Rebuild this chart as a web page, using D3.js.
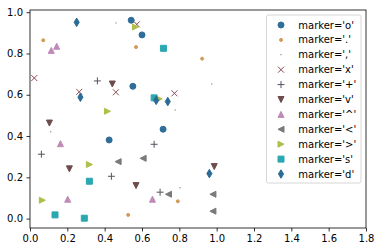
<!DOCTYPE html>
<html>
<head>
<meta charset="utf-8">
<script src="https://cdn.jsdelivr.net/npm/d3@7"></script>
<style>
  body { margin: 0; background: #fff; }
  svg text { font-family: "DejaVu Sans", sans-serif; font-size: 10px; fill: #000; }
</style>
</head>
<body>
<svg id="chart" width="380" height="252"></svg>
<script>
// marker codes, in the order they were plotted
const markerCodes = ["o", ".", ",", "x", "+", "v", "^", "<", ">", "s", "d"];
const markerColors = ["#2f6d9a", "#d39a55", "#3c6e3c", "#8c4a55", "#5a5060", "#6d4c4c",
                      "#c08ab8", "#7a7a7a", "#b0be4a", "#2aa8b0", "#2a6c95"];

// values, 5 points for each marker
const circleX = [0.542, 0.600, 0.551, 0.424, 0.713];
const circleY = [0.961, 0.890, 0.641, 0.381, 0.433];
const pointX = [0.071, 0.568, 0.922, 0.526, 0.792];
const pointY = [0.864, 0.831, 0.775, 0.018, 0.084];
const pixelX = [0.461, 0.974, 0.778, 0.111, 0.804];
const pixelY = [0.948, 0.652, 0.526, 0.421, 0.150];
const xmarkX = [0.572, 0.023, 0.264, 0.460, 0.774];
const xmarkY = [0.941, 0.681, 0.614, 0.612, 0.607];
const plusX = [0.361, 0.061, 0.665, 0.436, 0.697];
const plusY = [0.667, 0.312, 0.360, 0.205, 0.128];
const downX = [0.104, 0.211, 0.441, 0.568, 0.987];
const downY = [0.463, 0.241, 0.652, 0.160, 0.252];
const upX = [0.143, 0.114, 0.163, 0.202, 0.656];
const upY = [0.835, 0.815, 0.363, 0.094, 0.094];
const leftX = [0.472, 0.606, 0.742, 0.980, 0.980];
const leftY = [0.276, 0.292, 0.118, 0.118, 0.036];
const rightX = [0.565, 0.415, 0.318, 0.066, 0.692];
const rightY = [0.928, 0.520, 0.262, 0.089, 0.580];
const squareX = [0.715, 0.665, 0.318, 0.134, 0.291];
const squareY = [0.825, 0.585, 0.181, 0.018, 0.002];
const diamondX = [0.250, 0.270, 0.676, 0.738, 0.961];
const diamondY = [0.951, 0.588, 0.573, 0.567, 0.218];

const xTicks = [0, 0.2, 0.4, 0.6, 0.8, 1.0, 1.2, 1.4, 1.6, 1.8];
const yTicks = [0, 0.2, 0.4, 0.6, 0.8, 1.0];

const allX = [circleX, pointX, pixelX, xmarkX, plusX, downX, upX, leftX, rightX, squareX, diamondX];
const allY = [circleY, pointY, pixelY, xmarkY, plusY, downY, upY, leftY, rightY, squareY, diamondY];

const series = markerCodes.map((m, i) => ({
  code: m,
  color: markerColors[i],
  points: allX[i].map((x, j) => ({ x: x, y: allY[i][j] }))
}));

const svg = d3.select("#chart");
const plotL = 30, plotR = 366, plotT = 10, plotB = 228;

const x = d3.scaleLinear().domain([0, 1.8]).range([plotL, plotR]);
const y = d3.scaleLinear().domain([-0.0455, 1.0106]).range([plotB, plotT]);

// shape of each marker, centred on 0,0 (markersize 6)
function markerPath(m) {
  switch (m) {
    case "o": return "M3,0A3,3 0 1,1 -3,0A3,3 0 1,1 3,0Z";
    case ".": return "M1.5,0A1.5,1.5 0 1,1 -1.5,0A1.5,1.5 0 1,1 1.5,0Z";
    case ",": return "M-0.5,-0.5h1v1h-1Z";
    case "x": return "M-3,-3L3,3M-3,3L3,-3";
    case "+": return "M-3.5,0H3.5M0,-3.5V3.5";
    case "v": return "M0,3L-3,-3L3,-3Z";
    case "^": return "M0,-3L-3,3L3,3Z";
    case "<": return "M-3,0L3,-3L3,3Z";
    case ">": return "M3,0L-3,-3L-3,3Z";
    case "s": return "M-3,-3H3V3H-3Z";
    case "d": return "M0,-4.24L2.55,0L0,4.24L-2.55,0Z";
  }
}
const openMarker = m => m === "x" || m === "+";

function styleMarker(sel, s) {
  sel.attr("d", markerPath(s.code))
    .attr("fill", openMarker(s.code) ? "none" : s.color)
    .attr("stroke", s.code === "," ? "none" : s.color)
    .attr("stroke-width", 1);
}

// axes
const xAxis = d3.axisBottom(x).tickValues(xTicks).tickSize(3.5).tickPadding(3.5).tickFormat(d3.format(".1f"));
const yAxis = d3.axisLeft(y).tickValues(yTicks).tickSize(3.5).tickPadding(3.5).tickFormat(d3.format(".1f"));

const gx = svg.append("g").attr("transform", `translate(0,${plotB})`).call(xAxis);
const gy = svg.append("g").attr("transform", `translate(${plotL},0)`).call(yAxis);
[gx, gy].forEach(g => {
  g.select(".domain").remove();
  g.selectAll(".tick line").attr("stroke", "#000").attr("stroke-width", 0.8);
  g.selectAll("text").attr("font-size", 10).attr("font-family", "DejaVu Sans, sans-serif").attr("fill", "#000");
});

// points
series.forEach(s => {
  svg.append("g").selectAll("path")
    .data(s.points)
    .enter().append("path")
    .attr("transform", d => `translate(${x(d.x)},${y(d.y)})`)
    .call(styleMarker, s);
});

// frame
svg.append("rect")
  .attr("x", plotL).attr("y", plotT)
  .attr("width", plotR - plotL).attr("height", plotB - plotT)
  .attr("fill", "none").attr("stroke", "#000").attr("stroke-width", 0.8);

// legend
const legend = svg.append("g");
legend.append("rect")
  .attr("x", 266.5).attr("y", 15).attr("width", 94.5).attr("height", 168)
  .attr("rx", 2).attr("fill", "#fff").attr("fill-opacity", 0.8)
  .attr("stroke", "#cccccc").attr("stroke-width", 0.8);

const rows = legend.selectAll("g.row")
  .data(series)
  .enter().append("g")
  .attr("class", "row")
  .attr("transform", (d, i) => `translate(0,${25 + i * 14.9})`);

rows.append("path")
  .attr("transform", "translate(281,0)")
  .each(function (d) { d3.select(this).call(styleMarker, d); });

rows.append("text")
  .attr("x", 298.3)
  .attr("dy", "0.35em")
  .text(d => `marker='${d.code}'`);
</script>
</body>
</html>
